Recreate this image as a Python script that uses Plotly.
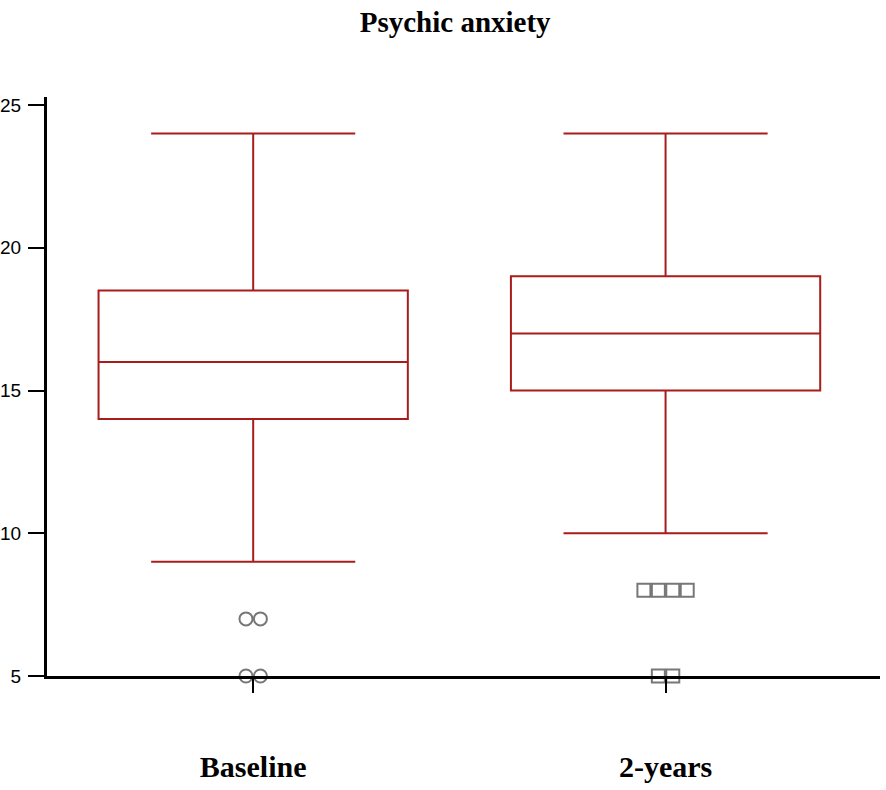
import plotly.graph_objects as go

groups = ['Baseline', '2-years']
q1 = [14, 15]
median = [16, 17]
q3 = [18.5, 19]
lower_fence = [9, 10]
upper_fence = [24, 24]

# outliers per group: (value, count)
outliers = {
    'Baseline': [(7, 2), (5, 2)],
    '2-years': [(8, 4), (5, 2)],
}
outlier_symbols = {'Baseline': 'circle-open', '2-years': 'square-open'}

RED = '#a81c1c'
fig = go.Figure()
for i, g in enumerate(groups):
    fig.add_trace(go.Box(
        x=[i], q1=[q1[i]], median=[median[i]], q3=[q3[i]],
        lowerfence=[lower_fence[i]], upperfence=[upper_fence[i]],
        width=0.75, whiskerwidth=0.66, fillcolor='rgba(0,0,0,0)',
        line=dict(color=RED, width=2), boxpoints=False, name=g,
    ))
    for val, n in outliers[g]:
        step = 0.035
        xs = [i + (k - (n - 1) / 2) * step for k in range(n)]
        fig.add_trace(go.Scatter(
            x=xs, y=[val] * n, mode='markers', cliponaxis=False,
            marker=dict(symbol=outlier_symbols[g], size=13, color='#777777',
                        line=dict(width=2, color='#777777')),
        ))

fig.update_layout(
    width=886, height=790, showlegend=False,
    plot_bgcolor='white', paper_bgcolor='white',
    margin=dict(l=47, r=6, t=97, b=114),
    title=dict(text='<b>Psychic anxiety</b>', x=0.49, xref='paper', y=0.972, yref='container',
               yanchor='middle',
               font=dict(family='Liberation Serif', size=29, color='black')),
    xaxis=dict(range=[-0.5, 1.52], tickvals=[0, 1], ticktext=['<b>Baseline</b>', '<b>2-years</b>'],
               showgrid=False, zeroline=False, showline=True, linecolor='black', linewidth=3,
               ticks='outside', ticklen=14, tickwidth=2, tickcolor='black', ticklabelstandoff=48,
               automargin=False,
               tickfont=dict(family='Liberation Serif', size=30, color='black')),
    yaxis=dict(range=[5, 25.28], tickvals=[5, 10, 15, 20, 25], showgrid=False, zeroline=False,
               showline=True, linecolor='black', linewidth=3, automargin=False,
               ticks='outside', ticklen=16, tickwidth=2, tickcolor='black', ticklabelstandoff=3,
               tickfont=dict(family='Liberation Sans', size=19, color='black')),
)

# drop the default page margin so the figure sits at the window's corner
fig.write_html('out.html', config={'displayModeBar': False},
               post_script="document.body.style.margin='0';")
